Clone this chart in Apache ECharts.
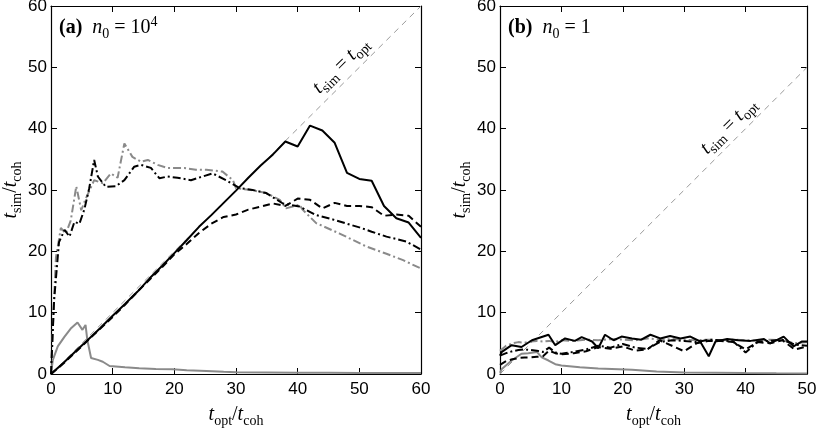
<!DOCTYPE html>
<html lang="en">
  <head>
    <meta charset="UTF-8" />
    <meta name="viewport" content="width=device-width, initial-scale=1.0" />
    <title>t_sim versus t_opt</title>
    <script src="https://cdn.jsdelivr.net/npm/echarts@6/dist/echarts.min.js"></script>
    <style>
      html, body { margin: 0; padding: 0; background: #fff; }
      #main { width: 817px; height: 428px; }
    </style>
  </head>
  <body>
    <div id="main"></div>

    <script>
      // panel (a): n0 = 10^4
      const aSolidX = [0, 2, 4, 6, 8, 10, 12, 14, 16, 18, 20, 22, 24, 26, 28, 30, 32, 34, 36, 38, 40, 42, 44, 46, 48, 50, 52, 54, 56, 58, 60];
      const aSolidY = [0, 1.8, 3.7, 5.6, 7.5, 9.5, 11.4, 13.4, 15.6, 17.6, 19.7, 21.8, 24.0, 25.9, 27.9, 29.9, 32.0, 34.0, 35.8, 37.9, 37.1, 40.5, 39.7, 37.7, 32.8, 31.8, 31.5, 27.4, 25.4, 24.7, 22.2];
      const aDashX = aSolidX;
      const aDashY = [0, 1.7, 3.6, 5.5, 7.4, 9.3, 11.3, 13.4, 15.4, 17.4, 19.5, 21.2, 23.0, 24.5, 25.6, 26.0, 26.8, 27.3, 27.8, 27.4, 28.6, 28.4, 27.0, 27.9, 27.4, 27.4, 27.2, 25.8, 26.0, 25.8, 24.0];
      const aDashDotX = [0, 0.5, 1.3, 2.2, 3.0, 3.8, 4.6, 5.4, 6.2, 7.0, 7.6, 8.9, 10.5, 11.9, 13.5, 14.6, 16.2, 17.6, 18.9, 20.5, 22.7, 24.6, 26.2, 28.4, 30.6, 32.7, 34.9, 37.6, 40.3, 43.0, 45.7, 48, 50.0, 52, 54.4, 57.6, 60];
      const aDashDotY = [0, 12, 21.5, 23.5, 22.4, 24.8, 24.5, 26.8, 30.3, 34.9, 32.2, 30.5, 30.6, 31.6, 33.8, 34.1, 33.6, 31.9, 32.2, 32.0, 31.6, 32.2, 32.7, 31.6, 30.3, 30.0, 29.5, 27.8, 27.3, 25.9, 25.2, 24.5, 23.9, 23.2, 22.4, 21.6, 20.3];
      const aGrayDashDotX = [0, 0.4, 0.8, 1.6, 2.4, 3.2, 4.1, 4.9, 5.6, 7.0, 8.4, 9.7, 10.8, 11.9, 13.2, 14.6, 15.7, 17.3, 18.9, 21.6, 23.5, 25.2, 27.8, 29.5, 30.0, 32.5, 34.9, 37.1, 38.1, 40.3, 40.8, 43.0, 46.8, 51.1, 54.4, 57, 60];
      const aGrayDashDotY = [0, 10, 19, 23.8, 22.9, 25, 30.6, 26.7, 28.5, 31.6, 31.1, 32.7, 32.0, 37.6, 35.4, 34.6, 34.9, 34.1, 33.6, 33.6, 33.3, 33.3, 33.0, 31.6, 30.3, 30.0, 29.5, 28.4, 27.0, 27.6, 26.8, 24.6, 22.9, 20.8, 19.6, 18.6, 17.2];
      const aGrayX = [0, 0.3, 1.1, 2.2, 3.2, 4.3, 5.1, 5.6, 5.9, 6.5, 7.6, 8.4, 9.5, 12, 14.3, 17, 19.7, 22, 25.2, 28, 30, 35, 40, 45, 50, 55, 60];
      const aGrayY = [0, 2.3, 4.5, 6.1, 7.4, 8.4, 7.2, 8.0, 5.5, 2.6, 2.3, 2.0, 1.3, 1.1, 0.93, 0.8, 0.77, 0.6, 0.5, 0.35, 0.3, 0.25, 0.2, 0.2, 0.15, 0.15, 0.15];
      const aDiagX = [0, 60];
      const aDiagY = [0, 60];

      // panel (b): n0 = 1
      const bSolidX = [0, 0.3, 1.9, 3.5, 5.2, 7.9, 9.0, 10.6, 12.2, 13.3, 15.0, 16.0, 17.1, 18.5, 19.8, 21.5, 23.0, 24.5, 26.1, 27.7, 29.4, 31.0, 32.6, 34.0, 35.1, 37.0, 38.8, 40.8, 43.0, 44.0, 46.2, 47.8, 49.2, 50];
      const bSolidY = [3.0, 3.6, 4.7, 4.4, 5.5, 6.4, 4.7, 5.8, 5.4, 6.0, 5.3, 4.2, 6.4, 5.5, 6.1, 5.8, 5.6, 6.4, 5.8, 6.2, 5.8, 6.1, 5.3, 2.9, 5.3, 5.7, 5.5, 5.4, 5.7, 5.0, 6.1, 4.5, 5.3, 5.3];
      const bStepX = [0, 1, 2, 3, 4, 5, 6, 7, 8, 9, 10, 12, 14, 16, 18, 20, 22, 24, 26, 28, 30, 32, 34, 36, 38, 40, 42, 44, 46, 48, 50];
      const bDashY = [1.5, 2.1, 2.4, 2.6, 2.7, 2.7, 2.8, 2.9, 3.8, 3.4, 3.2, 3.4, 3.7, 4.4, 4.1, 4.5, 3.8, 4.0, 5.5, 4.6, 3.7, 5.0, 5.4, 5.4, 5.2, 4.0, 5.2, 5.0, 5.5, 4.0, 4.5];
      const bDashDotY = [3.0, 3.4, 3.7, 3.9, 4.0, 3.9, 3.8, 3.6, 4.3, 3.5, 3.3, 3.6, 4.0, 4.6, 4.3, 4.9, 4.3, 4.1, 5.2, 5.5, 5.4, 5.2, 5.6, 5.5, 5.3, 3.5, 5.3, 5.4, 5.6, 4.8, 4.6];
      const bGrayDashDotY = [3.8, 4.6, 5.0, 5.2, 5.1, 5.3, 5.4, 5.3, 5.4, 5.2, 5.5, 5.4, 5.6, 5.5, 5.7, 5.6, 5.5, 5.8, 5.6, 5.7, 5.6, 5.5, 5.6, 5.5, 5.6, 5.5, 5.4, 5.6, 5.5, 5.0, 5.2];
      const bGrayX = [0, 0.3, 1.9, 3.5, 4.6, 6.0, 6.8, 7.9, 9.0, 10.0, 13, 16, 21.5, 25.5, 30, 35, 40, 45, 50];
      const bGrayY = [0.2, 0.8, 2.2, 3.3, 3.4, 3.6, 2.7, 2.2, 1.6, 1.4, 1.1, 0.9, 0.7, 0.4, 0.25, 0.2, 0.15, 0.12, 0.1];
      const bDiagX = [0, 50];
      const bDiagY = [0, 50];

      const SANS = 'Liberation Sans';
      const SERIF = 'Liberation Serif';
      const BLACK = '#000';
      const GRAY = '#8a8a8a';
      const DASH = [7, 4];
      const DASHDOT = [8, 3, 2, 3];

      const rich = {
        i: { fontFamily: SERIF, fontStyle: 'italic', fontSize: 20, color: BLACK, lineHeight: 26 },
        r: { fontFamily: SERIF, fontSize: 20, color: BLACK, lineHeight: 26 },
        s: { fontFamily: SERIF, fontSize: 14, color: BLACK, lineHeight: 16, verticalAlign: 'bottom' },
        p: { fontFamily: SERIF, fontSize: 14, color: BLACK, lineHeight: 14, verticalAlign: 'top' },
        bb: { fontFamily: SERIF, fontWeight: 'bold', fontSize: 20, color: BLACK, lineHeight: 26 },
      };

      const xName = '{i|t}{s|opt}{r|/}{i|t}{s|coh}';
      const yName = '{i|t}{s|sim}{r|/}{i|t}{s|coh}';

      function zip(xs, ys) {
        return xs.map((x, k) => [x, ys[k]]);
      }

      function line(xs, ys, color, type, axis, width) {
        return {
          type: 'line',
          xAxisIndex: axis,
          yAxisIndex: axis,
          data: zip(xs, ys),
          symbol: 'none',
          showSymbol: false,
          silent: true,
          lineStyle: { color, width: width || 2, type },
        };
      }

      function axisBase(grid, max) {
        return {
          gridIndex: grid,
          type: 'value',
          min: 0,
          max,
          interval: 10,
          splitLine: { show: false },
          axisLine: { show: true, onZero: false, lineStyle: { color: BLACK, width: 1.2 } },
          axisTick: { show: true, inside: true, length: 6, lineStyle: { color: BLACK, width: 1 } },
        };
      }

      const labelStyle = { show: true, color: BLACK, fontFamily: SANS, fontSize: 17, showMinLabel: true, showMaxLabel: true };

      const xAxis = [];
      const yAxis = [];
      [[0, 60, 24], [1, 50, 27]].forEach(([g, xmax, ygap]) => {
        xAxis.push({
          ...axisBase(g, xmax), position: 'bottom',
          axisLabel: { ...labelStyle, margin: 7 },
          name: xName, nameLocation: 'middle', nameGap: 28,
          nameTextStyle: { rich },
        });
        xAxis.push({ ...axisBase(g, xmax), position: 'top', axisLabel: { show: false } });
        yAxis.push({
          ...axisBase(g, 60), position: 'left',
          axisLabel: { ...labelStyle, margin: 4 },
          name: yName, nameLocation: 'middle', nameGap: ygap, nameRotate: 90,
          nameTextStyle: { rich },
        });
        yAxis.push({ ...axisBase(g, 60), position: 'right', axisLabel: { show: false } });
      });

      // axis index 0 -> panel (a), 2 -> panel (b)
      const series = [
        line(aDiagX, aDiagY, '#9a9a9a', [6, 5], 0, 1),
        line(aGrayX, aGrayY, GRAY, 'solid', 0),
        line(aGrayDashDotX, aGrayDashDotY, GRAY, DASHDOT, 0),
        line(aDashDotX, aDashDotY, BLACK, DASHDOT, 0),
        line(aDashX, aDashY, BLACK, DASH, 0),
        line(aSolidX, aSolidY, BLACK, 'solid', 0),
        line(bDiagX, bDiagY, '#9a9a9a', [6, 5], 2, 1),
        line(bGrayX, bGrayY, GRAY, 'solid', 2),
        line(bStepX, bGrayDashDotY, GRAY, DASHDOT, 2),
        line(bStepX, bDashDotY, BLACK, DASHDOT, 2),
        line(bStepX, bDashY, BLACK, DASH, 2),
        line(bSolidX, bSolidY, BLACK, 'solid', 2),
      ];

      const options = {
        animation: false,
        backgroundColor: '#fff',
        grid: [
          { left: 51, top: 6, width: 370, height: 368, containLabel: false, outerBoundsMode: 'none' },
          { left: 500, top: 6, width: 307, height: 368, containLabel: false, outerBoundsMode: 'none' },
        ],
        xAxis,
        yAxis,
        series,
      };

      const chart = echarts.init(document.getElementById('main'), null, { renderer: 'canvas' });
      chart.setOption(options);

      // annotations placed through the axes
      const annot = '{i|t}{s|sim}{r| = }{i|t}{s|opt}';
      const pa = chart.convertToPixel({ xAxisIndex: 0, yAxisIndex: 0 }, [47, 50.3]);
      const pb = chart.convertToPixel({ xAxisIndex: 2, yAxisIndex: 2 }, [37.2, 40.4]);
      const la = chart.convertToPixel({ xAxisIndex: 0, yAxisIndex: 0 }, [1.3, 56.4]);
      const lb = chart.convertToPixel({ xAxisIndex: 2, yAxisIndex: 2 }, [1.3, 56.4]);

      const textEl = (p, text, rot, align) => ({
        type: 'text', x: p[0], y: p[1], rotation: rot, silent: true,
        style: { text, rich, align, verticalAlign: 'middle', fill: BLACK },
      });

      chart.setOption({
        graphic: [
          textEl(pa, annot, Math.PI / 4, 'center'),
          textEl(pb, annot, Math.PI / 4, 'center'),
          textEl(la, '{bb|(a)}{r|  }{i|n}{s|0}{r| = 10}{p|4}', 0, 'left'),
          textEl(lb, '{bb|(b)}{r|  }{i|n}{s|0}{r| = 1}', 0, 'left'),
        ],
      });

      window.onresize = function () {
        chart.resize();
      };
    </script>
  </body>
</html>
